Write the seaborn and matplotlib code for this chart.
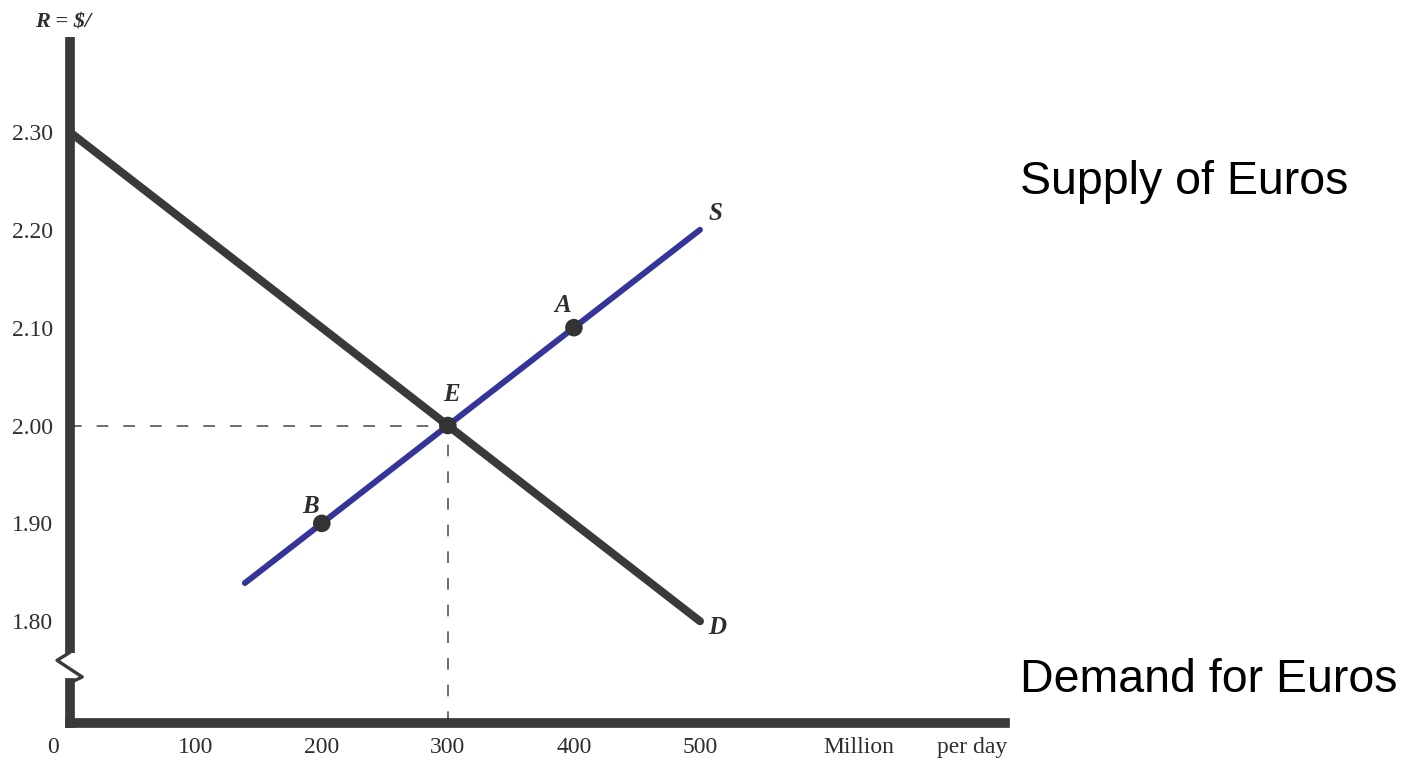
import numpy as np
import pandas as pd
import seaborn as sns
import matplotlib.pyplot as plt
import matplotlib.transforms as mtransforms

# Datos del mercado de euros (millones por día, tipo de cambio $/euro)
demand_q = [0, 500]
demand_rate = [2.30, 1.80]
supply_q = [139, 500]
supply_rate = [1.839, 2.20]

point_names = ['A', 'B', 'E']
point_q = [400, 200, 300]
point_rate = [2.10, 1.90, 2.00]

eq_q = 300
eq_rate = 2.00

x_ticks = [100, 200, 300, 400, 500]
y_ticks = [1.80, 1.90, 2.00, 2.10, 2.20, 2.30]
y_labels = ['1.80', '1.90', '2.00', '2.10', '2.20', '2.30']

# Configurar estilo
sns.set_theme(style="white")
plt.rcParams['font.family'] = ['Liberation Serif', 'DejaVu Serif']

fig = plt.figure(figsize=(14.1, 7.62), dpi=100)
ax = fig.add_axes([0.0494, 0.0512, 0.6634, 0.9002])
x_min, x_max = 0, 742
y_min, y_max = 1.696, 2.397
ax.set_xlim(x_min, x_max)
ax.set_ylim(y_min, y_max)

ink = '#3a3a3a'
blue = '#34349a'
txt = '#2e2e2e'

df_d = pd.DataFrame({'q': demand_q, 'r': demand_rate})
df_s = pd.DataFrame({'q': supply_q, 'r': supply_rate})
df_p = pd.DataFrame({'q': point_q, 'r': point_rate, 'name': point_names})

# Líneas punteadas del equilibrio
ax.plot([x_min, eq_q], [eq_rate, eq_rate], color='#555555', lw=1.2,
        dashes=(7, 9), zorder=1)
ax.plot([eq_q, eq_q], [y_min, eq_rate], color='#555555', lw=1.2,
        dashes=(7, 9), zorder=1)

# Curvas de oferta y demanda
sns.lineplot(data=df_d, x='q', y='r', ax=ax, color=ink, linewidth=5.8,
             solid_capstyle='round', zorder=3)
sns.lineplot(data=df_s, x='q', y='r', ax=ax, color=blue, linewidth=4.3,
             solid_capstyle='round', zorder=4)
sns.scatterplot(data=df_p, x='q', y='r', ax=ax, color='#333333', s=160,
                edgecolor='none', zorder=5)

# Etiquetas de curvas y puntos
lab = dict(fontsize=18, fontstyle='italic', fontweight='bold', color=txt,
           ha='center', va='center')
ax.text(512, 2.217, 'S', **lab)
ax.text(514, 1.794, 'D', **lab)
ax.text(391, 2.123, 'A', **lab)
ax.text(191, 1.917, 'B', **lab)
ax.text(303, 2.032, 'E', **lab)

# Ejes
for side in ['top', 'right', 'left']:
    ax.spines[side].set_visible(False)
ax.spines['bottom'].set_linewidth(7)
ax.spines['bottom'].set_color(ink)

tick_fs = 17
ax.set_xticks(x_ticks)
ax.set_xticklabels([str(v) for v in x_ticks])
ax.set_yticks(y_ticks)
ax.set_yticklabels(y_labels)
ax.tick_params(axis='both', direction='in', length=10, width=1,
               color='#aaaaaa', labelsize=tick_fs, labelcolor=txt)
ax.tick_params(axis='x', pad=10)
ax.tick_params(axis='y', pad=12)
ax.set_xlabel('')
ax.set_ylabel('')

# Eje vertical con corte
brk_top, brk_bot = 1.768, 1.737
ax.plot([0, 0], [y_max, brk_top], color=ink, lw=7, solid_capstyle='butt',
        clip_on=False, zorder=6)
ax.plot([0, 0], [brk_bot, y_min], color=ink, lw=7, solid_capstyle='projecting',
        clip_on=False, zorder=6)
ax.plot([0, -10, 10, 0], [brk_top, 1.760, 1.743, brk_bot], color=ink, lw=2.4,
        clip_on=False, zorder=6)

# Textos extra del eje x, a la misma altura que las etiquetas
trans = mtransforms.blended_transform_factory(ax.transData, ax.transAxes)
for xq, s in [(-13, '0'), (626, 'Million'), (716, 'per day')]:
    ax.annotate(s, xy=(xq, 0), xycoords=trans, xytext=(0, -10),
                textcoords='offset points', ha='center', va='top',
                fontsize=tick_fs, color=txt, annotation_clip=False)

fig.text(0.045, 0.971, 'R = $/', fontsize=16, fontstyle='italic',
         fontweight='bold', color=txt, ha='center', va='center')

# Textos a la derecha
fig.text(0.7234, 0.7454, 'Supply of Euros', fontsize=33.5, color='black',
         family=['Liberation Sans', 'DejaVu Sans'], ha='left', va='baseline')
fig.text(0.7234, 0.0919, 'Demand for Euros', fontsize=33.5, color='black',
         family=['Liberation Sans', 'DejaVu Sans'], ha='left', va='baseline')

fig.savefig('out.png', dpi=100)
